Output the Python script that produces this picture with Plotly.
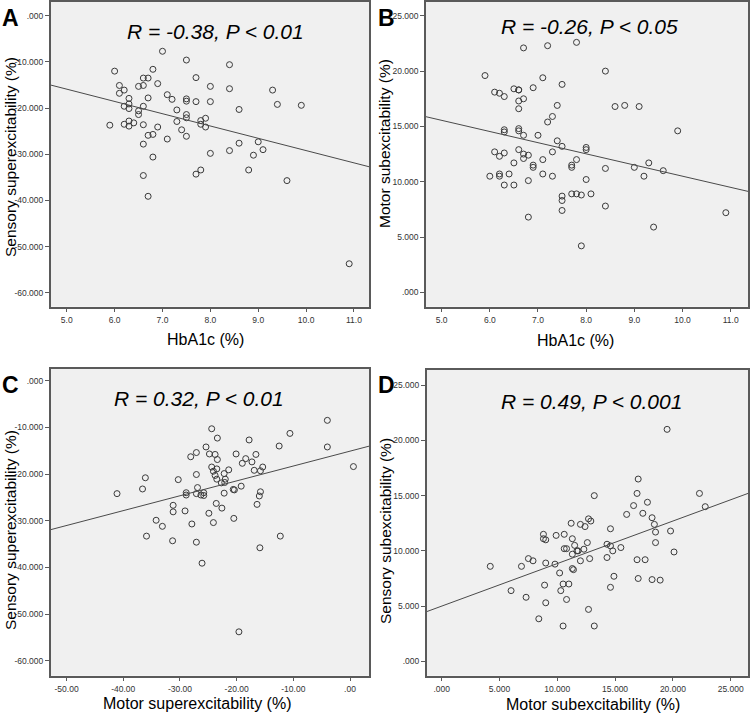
import plotly.graph_objects as go

# Panel A: HbA1c vs sensory superexcitability
a_x = [7.0, 7.5, 8.4, 6.0, 6.8, 6.6, 6.7, 7.7, 6.1, 6.5, 6.6, 6.9, 8.0, 8.4, 9.3,
       6.1, 6.2, 6.3, 6.7, 7.1, 7.2, 7.5, 7.5, 7.7, 8.0, 9.4, 9.9, 6.2, 6.3, 6.3,
       6.6, 6.5, 6.5, 7.3, 8.6, 7.5, 7.5, 7.9, 7.8, 7.3, 5.9, 6.2, 6.3, 6.3, 6.4,
       6.6, 6.9, 7.8, 7.9, 7.4, 6.7, 6.8, 7.5, 7.1, 9.0, 6.6, 8.6, 9.1, 8.4, 8.0,
       8.9, 6.8, 8.8, 6.6, 7.7, 7.8, 9.6, 6.7, 10.9]
a_y = [-7.7, -9.6, -10.6, -12.0, -11.6, -13.5, -13.5, -13.4, -15.1, -15.3, -15.1, -14.7, -15.3, -15.8, -16.1,
       -16.8, -16.1, -17.9, -17.8, -17.1, -18.1, -18.0, -18.5, -18.6, -18.6, -19.2, -19.4, -19.6, -19.1, -20.1,
       -19.6, -20.6, -21.4, -20.4, -20.3, -21.4, -22.1, -22.2, -22.7, -22.9, -23.7, -23.5, -22.8, -23.9, -23.2,
       -23.6, -24.1, -23.5, -24.1, -24.7, -25.9, -25.7, -26.1, -26.7, -27.3, -27.8, -27.6, -29.0, -29.2, -29.8,
       -30.2, -30.6, -33.4, -34.6, -34.3, -33.4, -35.7, -39.1, -53.7]

# Panel B: HbA1c vs motor subexcitability
b_x = [7.8, 6.7, 7.2, 8.4, 5.9, 7.1, 7.5, 6.9, 6.1, 6.2, 6.3, 6.5, 6.6, 6.6, 6.6,
       6.7, 6.6, 7.4, 8.6, 8.8, 9.1, 7.3, 7.2, 9.9, 6.3, 6.3, 6.6, 6.6, 6.7, 7.0,
       7.4, 7.5, 8.0, 8.0, 7.3, 6.1, 6.2, 6.3, 6.6, 6.7, 6.7, 6.8, 6.5, 7.1, 7.8,
       6.9, 6.9, 7.7, 7.7, 8.4, 9.0, 9.3, 9.6, 6.0, 6.2, 6.2, 6.4, 7.1, 7.3, 9.2,
       6.3, 6.5, 6.8, 8.0, 7.5, 7.5, 7.7, 7.8, 7.9, 8.1, 8.4, 7.5, 6.8, 9.4, 10.9,
       7.9]
b_y = [22.6, 22.1, 22.3, 20.0, 19.6, 19.4, 18.8, 18.5, 18.1, 18.0, 17.7, 18.4, 18.3, 18.3, 17.3,
       17.5, 16.6, 16.9, 16.8, 16.9, 16.8, 15.9, 15.4, 14.6, 14.7, 14.5, 14.8, 14.6, 14.2, 14.2,
       13.7, 13.2, 13.1, 12.9, 12.7, 12.7, 12.3, 12.6, 12.9, 12.5, 12.1, 12.4, 11.7, 12.0, 12.0,
       11.5, 11.3, 11.5, 11.3, 11.2, 11.3, 11.7, 11.0, 10.5, 10.7, 10.5, 10.7, 10.7, 10.5, 10.5,
       9.7, 9.7, 10.1, 10.2, 8.7, 8.3, 8.9, 8.9, 8.8, 8.9, 7.8, 7.4, 6.8, 5.9, 7.2,
       4.2]

# Panel C: motor vs sensory superexcitability
c_x = [-4.0, -24.4, -10.6, -23.4, -17.8, -25.4, -12.5, -4.0, -27.1, -24.8, -23.8, -20.1, -16.6, -28.1, -18.4,
       -19.0, -17.3, -23.4, -24.4, -23.5, 0.6, -15.4, -16.9, -15.8, -21.4, -24.1, -23.8, -27.1, -22.2, -22.0,
       -23.5, -22.7, -22.1, -36.1, -30.3, -19.2, -36.6, -26.9, -20.6, -20.4, -41.1, -28.9, -28.9, -27.1, -25.8,
       -25.8, -26.3, -22.2, -15.8, -16.0, -23.6, -16.4, -31.2, -31.2, -29.1, -22.6, -24.9, -24.1, -20.5, -34.2,
       -33.1, -27.9, -35.9, -31.3, -27.1, -12.3, -15.9, -26.1, -19.6]
c_y = [-8.5, -10.3, -11.3, -12.3, -12.7, -14.2, -14.0, -14.2, -15.4, -15.7, -15.8, -15.7, -15.8, -16.3, -16.7,
       -17.7, -17.4, -16.9, -18.5, -18.9, -18.4, -18.5, -19.2, -19.3, -19.1, -19.4, -20.3, -20.1, -19.9, -21.1,
       -21.1, -21.9, -21.8, -20.8, -21.2, -22.6, -23.2, -22.9, -23.3, -23.4, -24.2, -24.0, -24.5, -24.2, -24.0,
       -24.6, -24.5, -24.1, -23.8, -24.7, -26.3, -26.5, -26.7, -28.1, -27.9, -27.3, -28.4, -30.4, -29.5, -29.9,
       -31.2, -30.7, -33.3, -34.3, -34.6, -33.3, -35.8, -39.1, -53.8]

# Panel D: motor vs sensory subexcitability
d_x = [19.5, 17.0, 16.9, 22.3, 13.2, 16.6, 17.8, 22.8, 17.4, 16.0, 18.2, 18.4, 18.5, 12.7, 12.9,
       12.0, 12.4, 11.2, 14.6, 19.8, 8.8, 9.9, 10.6, 8.8, 9.0, 11.3, 10.6, 10.8, 11.5, 11.7,
       11.8, 11.3, 12.6, 12.3, 14.3, 14.6, 14.8, 15.5, 18.5, 20.1, 4.2, 6.9, 7.5, 7.9, 9.0,
       9.8, 12.0, 12.8, 14.3, 16.9, 17.6, 10.2, 11.3, 11.4, 14.9, 17.0, 18.2, 18.9, 6.0, 8.9,
       10.5, 11.0, 14.6, 10.3, 7.3, 9.0, 10.8, 12.7, 8.4, 10.5, 13.2]
d_y = [21.0, 16.5, 15.2, 15.2, 15.0, 14.1, 14.4, 14.0, 13.4, 13.3, 13.0, 12.4, 11.7, 12.9, 12.7,
       12.4, 12.2, 12.5, 12.0, 11.8, 11.5, 11.4, 11.5, 11.1, 11.0, 11.1, 10.2, 10.2, 10.5, 10.0,
       10.0, 9.7, 10.75, 10.15, 10.6, 10.45, 10.0, 10.3, 10.75, 9.9, 8.6, 8.6, 9.3, 9.1, 8.9,
       8.8, 9.1, 9.3, 9.4, 9.2, 9.2, 8.0, 8.4, 8.3, 7.7, 7.5, 7.4, 7.35, 6.4, 6.9,
       7.0, 7.0, 6.7, 6.4, 5.8, 5.3, 5.6, 4.7, 3.85, 3.2, 3.2]

# fitted lines: [intercept, slope]
a_fit = [-2.6, -2.66]
b_fit = [20.6, -1.01]
c_fit = [-15.1, 0.3185]
d_fit = [5.0, 0.385]

stats_text = ["R = -0.38, P < 0.01", "R = -0.26, P < 0.05", "R = 0.32, P < 0.01", "R = 0.49, P < 0.001"]
panel_letters = ["A", "B", "C", "D"]
x_titles = ["HbA1c (%)", "HbA1c (%)", "Motor superexcitability (%)", "Motor subexcitability (%)"]
y_titles = ["Sensory superexcitability (%)", "Motor subexcitability (%)",
            "Sensory superexcitability (%)", "Sensory subexcitability (%)"]

hba1c_ticks = [5, 6, 7, 8, 9, 10, 11]
hba1c_labels = ["5.0", "6.0", "7.0", "8.0", "9.0", "10.0", "11.0"]
super_ticks = [0, -10, -20, -30, -40, -50, -60]
super_labels = [".000", "-10.000", "-20.000", "-30.000", "-40.000", "-50.000", "-60.000"]
sub_ticks = [0, 5, 10, 15, 20, 25]
sub_labels = [".000", "5.000", "10.000", "15.000", "20.000", "25.000"]
motor_super_ticks = [-50, -40, -30, -20, -10, 0]
motor_super_labels = ["-50.00", "-40.00", "-30.00", "-20.00", "-10.00", ".00"]

W, H = 750, 714
FONT = "Liberation Sans, Arial, sans-serif"
FRAME = "#5a5a5a"

panels = [
    dict(x=a_x, y=a_y, fit=a_fit, xr=[4.665, 11.32], yr=[-63.0, 2.97],
         xt=(hba1c_ticks, hba1c_labels), yt=(super_ticks, super_labels),
         px=(50.7, 369.3), py=(2, 306.7)),
    dict(x=b_x, y=b_y, fit=b_fit, xr=[4.675, 11.36], yr=[-1.3, 26.25],
         xt=(hba1c_ticks, hba1c_labels), yt=(sub_ticks, sub_labels),
         px=(426, 748), py=(2, 306.7)),
    dict(x=c_x, y=c_y, fit=c_fit, xr=[-52.8, 3.4], yr=[-63.2, 2.5],
         xt=(motor_super_ticks, motor_super_labels), yt=(super_ticks, super_labels),
         px=(50.7, 369.3), py=(369, 675.7)),
    dict(x=d_x, y=d_y, fit=d_fit, xr=[-1.3, 26.5], yr=[-1.3, 26.4],
         xt=(sub_ticks, sub_labels), yt=(sub_ticks, sub_labels),
         px=(426.7, 748), py=(369.7, 675.7)),
]

# annotation positions in pixels (x, y)
stat_pos = [(216, 32), (589, 27), (199, 398), (591, 401)]
letter_pos = [(10, 18), (386, 18), (10, 385), (386, 385)]
xtitle_pos = [(205, 339), (575, 340), (197, 703), (593, 704)]
ytitle_pos = [(10, 157), (385, 144), (10, 530), (385, 531)]

fig = go.Figure()
layout = dict(width=W, height=H, margin=dict(l=0, r=0, t=0, b=0),
              paper_bgcolor="white", showlegend=False, font=dict(family=FONT))
annotations = []

for i, p in enumerate(panels):
    n = "" if i == 0 else str(i + 1)
    xa, ya = "x" + n, "y" + n
    fig.add_trace(go.Scatter(
        x=p["x"], y=p["y"], mode="markers", xaxis=xa, yaxis=ya,
        marker=dict(symbol="circle-open", size=6, color="#3a3a3a", line=dict(width=1)),
    ))
    b0, b1 = p["fit"]
    fig.add_trace(go.Scatter(
        x=p["xr"], y=[b0 + b1 * v for v in p["xr"]], mode="lines", xaxis=xa, yaxis=ya,
        line=dict(color="#4a4a4a", width=1), hoverinfo="skip",
    ))
    axis_common = dict(showline=True, linecolor=FRAME, linewidth=1.5, mirror=True,
                       showgrid=False, zeroline=False, ticks="outside", ticklen=4,
                       tickcolor=FRAME, tickfont=dict(size=8.5, color="#333333"))
    layout["xaxis" + n] = dict(
        domain=[p["px"][0] / W, p["px"][1] / W], range=p["xr"], anchor=ya,
        tickvals=p["xt"][0], ticktext=p["xt"][1], **axis_common)
    layout["yaxis" + n] = dict(
        domain=[1 - p["py"][1] / H, 1 - p["py"][0] / H], range=p["yr"], anchor=xa,
        tickvals=p["yt"][0], ticktext=p["yt"][1], **axis_common)

    def ann(text, pos, size, **kw):
        annotations.append(dict(text=text, x=pos[0] / W, y=1 - pos[1] / H,
                                xref="paper", yref="paper", showarrow=False,
                                xanchor="center", yanchor="middle",
                                font=dict(size=size, color="black", family=FONT), **kw))

    ann("<i>" + stats_text[i] + "</i>", stat_pos[i], 21)
    ann("<b>" + panel_letters[i] + "</b>", letter_pos[i], 23)
    ann(x_titles[i], xtitle_pos[i], 16)
    ann(y_titles[i], ytitle_pos[i], 15.5, textangle=-90)

layout["annotations"] = annotations
layout["plot_bgcolor"] = "#f0f0f0"
fig.update_layout(**layout)

# drop the browser's default body margin so the figure sits at the page corner
fig.write_html("out.html", config={"displayModeBar": False},
               post_script="document.body.style.margin='0';")
